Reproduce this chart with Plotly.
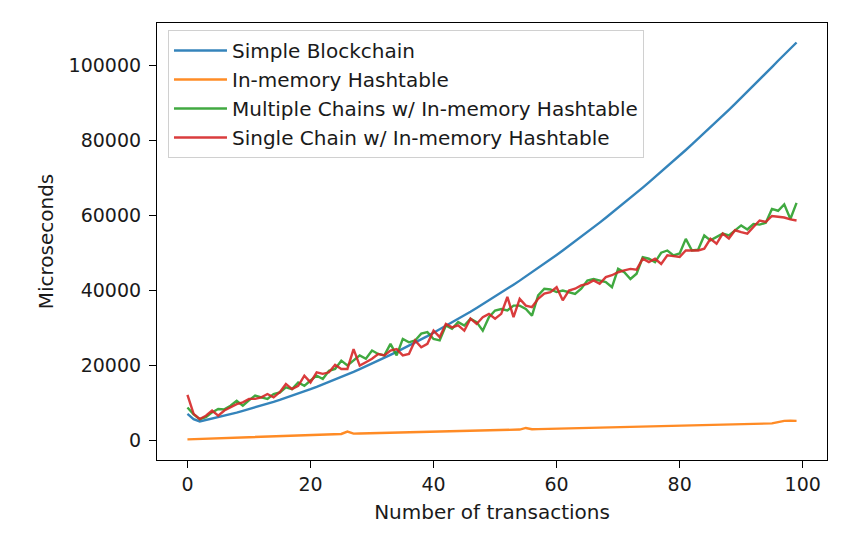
import plotly.graph_objects as go

x_vals = list(range(100))

simple_blockchain = [
    7000, 5600, 5000, 5360, 5730, 6100, 6500, 6900, 7350, 7800,
    8250, 8730, 9220, 9720, 10230, 10760, 11300, 11860, 12430, 13020,
    13620, 14240, 14870, 15510, 16170, 16840, 17520, 18220, 18940, 19670,
    20410, 21170, 21950, 22740, 23540, 24350, 25180, 26020, 26880, 27750,
    28640, 29540, 30460, 31390, 32330, 33290, 34260, 35250, 36250, 37270,
    38300, 39340, 40400, 41470, 42560, 43660, 44790, 45920, 47070, 48230,
    49400, 50590, 51800, 53020, 54250, 55500, 56760, 58040, 59330, 60640,
    61960, 63290, 64640, 66000, 67380, 68770, 70170, 71590, 73020, 74470,
    75930, 77410, 78900, 80400, 81920, 83450, 85000, 86560, 88130, 89720,
    91320, 92940, 94570, 96210, 97870, 99540, 101220, 102920, 104500, 106100,
]

in_memory_hashtable = [
    200, 260, 310, 370, 420, 480, 530, 590, 640, 700,
    750, 810, 860, 920, 970, 1030, 1080, 1140, 1190, 1250,
    1300, 1360, 1410, 1470, 1520, 1650, 2300, 1750, 1780, 1820,
    1860, 1900, 1940, 1980, 2020, 2060, 2100, 2140, 2180, 2220,
    2260, 2300, 2340, 2380, 2420, 2460, 2500, 2540, 2580, 2620,
    2660, 2700, 2740, 2780, 2820, 3250, 2900, 2940, 2980, 3020,
    3060, 3100, 3140, 3180, 3220, 3260, 3300, 3340, 3380, 3420,
    3460, 3500, 3540, 3580, 3620, 3660, 3700, 3740, 3780, 3820,
    3860, 3900, 3940, 3980, 4020, 4060, 4100, 4140, 4180, 4220,
    4260, 4300, 4340, 4380, 4420, 4460, 4800, 5150, 5200, 5150,
]

multiple_chains = [
    8700, 6900, 5600, 6100, 7400, 8300, 8200, 9200, 10500, 9200,
    10600, 11900, 11400, 11000, 12300, 12700, 14100, 13600, 15400, 14500,
    15900, 17200, 16300, 18500, 19000, 21200, 19900, 21200, 22600, 21700,
    23900, 23000, 22600, 25700, 22600, 27000, 26100, 26600, 28400, 28800,
    27000, 26600, 30600, 29700, 31500, 30600, 32400, 31500, 29200, 32800,
    34600, 35000, 34600, 35900, 35900, 35000, 33200, 38600, 40400, 40200,
    39500, 39900, 39500, 39000, 40400, 42600, 43000, 42600, 42200, 40800,
    45700, 44800, 43000, 44400, 48800, 48400, 47500, 50000, 50600, 49300,
    49800, 53700, 50600, 50800, 54600, 53300, 54200, 55100, 54600, 56000,
    57300, 56200, 57700, 57500, 58000, 61700, 61200, 62900, 59000, 63300,
]

single_chain = [
    12100, 7000, 5600, 6500, 7900, 6500, 7900, 8700, 9600, 10100,
    11000, 11000, 11400, 12300, 11400, 12800, 15000, 13600, 14500, 17200,
    15400, 18100, 17700, 18100, 20100, 19000, 19000, 24300, 19900, 20800,
    21700, 23000, 22600, 23900, 24300, 22600, 23000, 26600, 24800, 25700,
    29200, 27500, 31000, 30100, 30600, 29200, 32400, 31000, 32800, 33700,
    32400, 33700, 38200, 32800, 37700, 35900, 35500, 37700, 39100, 39500,
    40800, 37300, 39900, 40400, 41300, 41700, 42600, 41700, 43500, 44000,
    44800, 45300, 45700, 45500, 48400, 47500, 48400, 47000, 49300, 49100,
    48900, 50600, 50600, 50600, 51100, 53700, 52400, 55100, 53800, 56000,
    55500, 55100, 56900, 58600, 58200, 59800, 59600, 59400, 58900, 58600,
]

series_names = [
    "Simple Blockchain",
    "In-memory Hashtable",
    "Multiple Chains w/ In-memory Hashtable",
    "Single Chain w/ In-memory Hashtable",
]
series_colors = ["#1f77b4", "#ff7f0e", "#2ca02c", "#d62728"]
series_data = [simple_blockchain, in_memory_hashtable, multiple_chains, single_chain]

x_tick_vals = [0, 20, 40, 60, 80, 100]
y_tick_vals = [0, 20000, 40000, 60000, 80000, 100000]

FONT = "DejaVu Sans"
TXT = "#1a1a1a"

fig = go.Figure()
for name, color, data in zip(series_names, series_colors, series_data):
    fig.add_trace(go.Scatter(
        x=x_vals, y=data, mode="lines", name=name,
        line=dict(color=color, width=2.4),
        opacity=0.9,
    ))

fig.update_layout(
    width=842, height=534,
    margin=dict(l=149, r=23, t=15, b=82),
    paper_bgcolor="white", plot_bgcolor="white",
    font=dict(family=FONT, size=19, color=TXT),
    showlegend=True,
    legend=dict(
        x=0.0164, y=0.984, xanchor="left", yanchor="top",
        bgcolor="rgba(255,255,255,0.8)",
        bordercolor="#d0d0d0", borderwidth=1,
        font=dict(family=FONT, size=20, color=TXT),
        itemwidth=53,
    ),
)

axis_common = dict(
    showline=True, linecolor="#000000", linewidth=1.2, mirror=True,
    ticks="outside", ticklen=7, tickwidth=1.2, tickcolor="#000000",
    showgrid=False, zeroline=False,
    tickfont=dict(family=FONT, size=19, color=TXT),
)

fig.update_xaxes(
    range=[-4.95, 103.95], tickvals=x_tick_vals,
    ticktext=[str(v) for v in x_tick_vals],
    title=dict(text="Number of transactions", standoff=11,
               font=dict(family=FONT, size=20, color=TXT)),
    **axis_common,
)
fig.update_yaxes(
    range=[-5300, 111300], tickvals=y_tick_vals,
    ticktext=[str(v) for v in y_tick_vals],
    ticklabelstandoff=4,
    title=dict(text="Microseconds", standoff=9,
               font=dict(family=FONT, size=20, color=TXT)),
    **axis_common,
)

fig.write_html("out.html")
